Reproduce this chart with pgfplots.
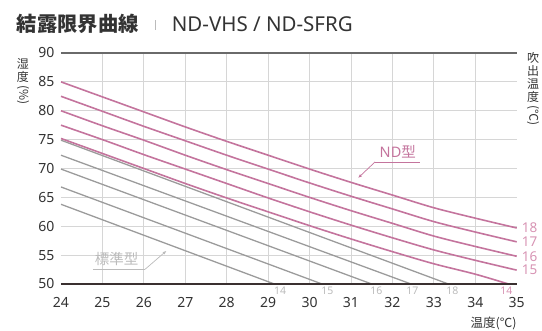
\documentclass[border=0pt]{standalone}
\usepackage{pgfplots}
\pgfplotsset{compat=1.18}
\usepackage{fontspec}
\setmainfont{Noto Sans}
\newfontfamily\jp{Noto Sans CJK JP}
\usetikzlibrary{arrows.meta}
\definecolor{ndc}{HTML}{C4749D}
\definecolor{ndl}{HTML}{D793B3}
\definecolor{stc}{HTML}{9B9B9B}
\definecolor{stl}{HTML}{BBBBBB}
\definecolor{gridc}{HTML}{D6D6D6}
\definecolor{txt}{HTML}{333333}
\definecolor{axc}{HTML}{3A3030}
\definecolor{topc}{HTML}{6A6A6A}
\newcommand{\vstack}[1]{\begin{tabular}{@{}c@{}}#1\end{tabular}}
\begin{document}
\begin{tikzpicture}
\begin{axis}[
  name=ax, scale only axis, width=455.7pt, height=231pt,
  xmin=24, xmax=35, ymin=50, ymax=90,
  xtick={24,...,35}, ytick={50,55,...,90},
  extra x ticks={25,...,34}, extra x tick labels={},
  extra x tick style={xmajorgrids=true},
  ymajorgrids, xmajorgrids=false,
  major grid style={draw=gridc, line width=0.9pt},
  axis line style={draw=none}, major tick length=0pt,
  tick label style={font=\fontsize{14}{14}\selectfont, text=txt},
  xticklabel style={yshift=-10pt},
  yticklabel style={xshift=-3pt},
  /pgf/number format/assume math mode=true,
  clip=false,
]
% 標準型 (gray, straight)
\addplot[stc, line width=1.3pt] coordinates {(24,74.9) (33.35,50)};
\addplot[stc, line width=1.3pt] coordinates {(24,72.3) (32.45,50)};
\addplot[stc, line width=1.3pt] coordinates {(24,69.9) (31.5,50)};
\addplot[stc, line width=1.3pt] coordinates {(24,66.8) (30.3,50)};
\addplot[stc, line width=1.3pt] coordinates {(24,63.8) (29.15,50)};
% ND型 (pink, curved)
\addplot[ndc, line width=1.6pt, smooth] coordinates {(24,85.0) (25,82.4) (26,79.8) (27,77.2) (28,74.7) (29,72.3) (30,69.9) (31,67.6) (32,65.4) (33,63.2) (34,61.4) (35,59.7)};
\addplot[ndc, line width=1.6pt, smooth] coordinates {(24,82.5) (25,79.9) (26,77.3) (27,74.8) (28,72.3) (29,69.9) (30,67.5) (31,65.2) (32,63.0) (33,60.8) (34,59.0) (35,57.3)};
\addplot[ndc, line width=1.6pt, smooth] coordinates {(24,80.0) (25,77.4) (26,74.9) (27,72.3) (28,69.8) (29,67.4) (30,65.0) (31,62.7) (32,60.5) (33,58.3) (34,56.5) (35,54.8)};
\addplot[ndc, line width=1.6pt, smooth] coordinates {(24,77.5) (25,75.0) (26,72.4) (27,69.9) (28,67.4) (29,64.9) (30,62.5) (31,60.2) (32,58.0) (33,55.9) (34,54.1) (35,52.4)};
\addplot[ndc, line width=1.6pt, smooth] coordinates {(24,75.2) (25,72.6) (26,70.0) (27,67.4) (28,64.9) (29,62.5) (30,60.1) (31,57.8) (32,55.6) (33,53.5) (34,51.7) (34.8,50.0)};
% frame lines
\draw[topc, line width=1.3pt] (axis cs:24,90) -- (axis cs:35,90);
\draw[axc, line width=1.3pt] (axis cs:24,50) -- (axis cs:35,50);
% line labels
\begin{scope}[every node/.style={font=\fontsize{13.5}{13.5}\selectfont, text=ndl, anchor=west, inner sep=0pt, xshift=5pt}]
\node at (axis cs:35,59.7) {18};
\node at (axis cs:35,57.3) {17};
\node at (axis cs:35,54.8) {16};
\node at (axis cs:35,52.4) {15};
\end{scope}
\begin{scope}[every node/.style={font=\fontsize{10.5}{10.5}\selectfont, anchor=north, inner sep=0pt, yshift=-2.5pt}]
\node[text=stl] at (axis cs:29.29,50) {14};
\node[text=stl] at (axis cs:30.43,50) {15};
\node[text=stl] at (axis cs:31.61,50) {16};
\node[text=stl] at (axis cs:32.48,50) {17};
\node[text=stl] at (axis cs:33.45,50) {18};
\node[text=ndl] at (axis cs:34.75,50) {14};
\end{scope}
% annotations
\node[text=ndc, font=\fontsize{14.5}{14.5}\selectfont, inner sep=0pt] at (axis cs:32.13,72.86) {ND{\jp 型}};
\draw[ndc, line width=0.7pt] (axis cs:32.66,71.13) -- (axis cs:31.58,71.13);
\draw[ndc, line width=0.7pt, -{Latex[length=4pt,width=3pt]}] (axis cs:31.58,71.13) -- (axis cs:31.17,68.35);
\node[text=stl, font=\jp\fontsize{14.5}{14.5}\selectfont, inner sep=0pt] at (axis cs:25.34,54.33) {標準型};
\draw[stl, line width=0.7pt] (axis cs:24.77,52.55) -- (axis cs:26.03,52.55);
\draw[stl, line width=0.7pt, -{Latex[length=4pt,width=3pt]}] (axis cs:26.03,52.55) -- (axis cs:26.55,55.77);
\end{axis}
% titles and axis labels
\node[anchor=base west, inner sep=0pt, text=txt, font=\jp\bfseries\fontsize{20.3}{20.3}\selectfont] at ([shift={(-44.3pt,21.3pt)}]ax.north west) {結露限界曲線};
\draw[stl, line width=0.8pt] ([shift={(94pt,23pt)}]ax.north west) -- ([shift={(94pt,33pt)}]ax.north west);
\node[anchor=base west, inner sep=0pt, text=txt, font=\fontsize{20.5}{20.5}\selectfont] at ([shift={(110.7pt,21.3pt)}]ax.north west) {ND-VHS / ND-SFRG};
\node (yl) [anchor=north, text=txt, inner sep=0pt, font=\jp\fontsize{12}{12}\selectfont] at ([shift={(-38pt,-5pt)}]ax.north west) {\renewcommand{\arraystretch}{0.82}\vstack{湿\\度}};
\node[rotate=-90, anchor=west, text=txt, inner sep=0pt, font=\jp\fontsize{12}{12}\selectfont] at ([yshift=-1pt]yl.south) {(\%)};
\node (yr) [anchor=north, text=txt, inner sep=0pt, font=\jp\fontsize{12}{12}\selectfont] at ([shift={(16.5pt,1pt)}]ax.north east) {\renewcommand{\arraystretch}{0.82}\vstack{吹\\出\\温\\度}};
\node[rotate=-90, anchor=west, text=txt, inner sep=0pt, font=\jp\fontsize{12}{12}\selectfont] at ([yshift=-1pt]yr.south) {(℃)};
\node[text=txt, anchor=east, inner sep=0pt, font=\jp\fontsize{12.5}{12.5}\selectfont] at ([shift={(0pt,-39.5pt)}]ax.south east) {温度(℃)};
\pgfresetboundingbox
\path ([shift={(-61pt,-47pt)}]ax.south west) rectangle ([shift={(481pt,284pt)}]ax.south west);
\end{tikzpicture}
\end{document}
